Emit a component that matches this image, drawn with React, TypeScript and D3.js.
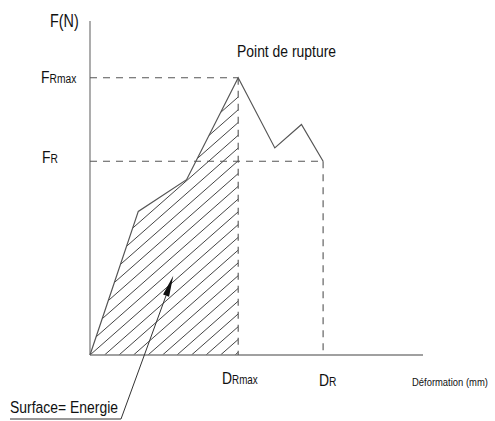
import * as d3 from "d3";

// deformation (mm) / force (N), arbitrary units
const deformation = [0, 1.45, 2.9, 4.45, 5.55, 6.35, 7.0];
const force = [0, 4.3, 5.25, 8.3, 6.2, 6.9, 5.8];
const peakIndex = 3;
const FR_MAX = 8.3;
const FR = 5.8;
const DR_MAX = 4.45;
const DR = 7.0;
const arrowTip = [2.5, 2.37];

const W = 495, H = 421;
const FONT = "'Liberation Sans', Arial, sans-serif";
const NARROW = 0.82; // the sketch uses a condensed face
const LINE = "#555";
const AXIS = "#808080";

// text squeezed horizontally around its anchor point
function Label({ x, y, size, children }: { x: number; y: number; size?: number; children: any }) {
  return (
    <text transform={`translate(${x},${y}) scale(${NARROW},1)`} fontSize={size}>
      {children}
    </text>
  );
}

export default function App() {
  const x = d3.scaleLinear().domain([0, 10]).range([90, 423]);
  const y = d3.scaleLinear().domain([0, 10]).range([355, 21]);
  const pts = deformation.map((d, i) => [x(d), y(force[i])] as [number, number]);
  const curve = d3.line()(pts) ?? "";
  const area = d3.line()([...pts.slice(0, peakIndex + 1), [x(DR_MAX), y(0)]]) + "Z";

  // hatching: parallel lines, 14.5px apart along the x axis
  const step = 14.5, slope = 0.88;
  const hatch = d3.range(-20, 12).map((k) => {
    const x0 = x(0) + k * step;
    return { x1: x0, y1: y(0), x2: x0 + 300, y2: y(0) - 300 * slope };
  });

  // arrow pointing into the hatched area
  const tip = [x(arrowTip[0]), y(arrowTip[1])];
  const foot = [121, 419];
  const len = Math.hypot(tip[0] - foot[0], tip[1] - foot[1]);
  const ux = (tip[0] - foot[0]) / len, uy = (tip[1] - foot[1]) / len;
  const headL = 21, headW = 3.2;
  const base = [tip[0] - ux * headL, tip[1] - uy * headL];
  const head = `M${tip[0]},${tip[1]}L${base[0] - uy * headW},${base[1] + ux * headW}L${base[0] + uy * headW},${base[1] - ux * headW}Z`;

  return (
    <svg width={W} height={H} style={{ position: "absolute", left: 0, top: 0, background: "#fff" }} fontFamily={FONT}>
      <defs>
        <clipPath id="hatchClip"><path d={area} /></clipPath>
      </defs>

      <g clipPath="url(#hatchClip)" stroke="#444" strokeWidth={1}>
        {hatch.map((l, i) => <line key={i} {...l} />)}
      </g>

      {/* axes */}
      <line x1={x(0)} x2={x(0)} y1={y(10)} y2={y(0)} stroke={AXIS} strokeWidth={1.3} />
      <line x1={x(0)} x2={x(10)} y1={y(0)} y2={y(0)} stroke={AXIS} strokeWidth={1.3} />

      {/* reference dashes */}
      <g stroke={LINE} strokeWidth={1.1} strokeDasharray="7,6" fill="none">
        <line x1={x(0)} x2={x(DR_MAX)} y1={y(FR_MAX)} y2={y(FR_MAX)} />
        <line x1={x(0)} x2={x(DR)} y1={y(FR)} y2={y(FR)} />
        <line x1={x(DR_MAX)} x2={x(DR_MAX)} y1={y(FR_MAX)} y2={y(0)} />
        <line x1={x(DR)} x2={x(DR)} y1={y(FR)} y2={y(0)} />
      </g>

      <path d={curve} fill="none" stroke={LINE} strokeWidth={1.2} strokeLinejoin="miter" />

      {/* annotation */}
      <line x1={10} x2={foot[0]} y1={foot[1]} y2={foot[1]} stroke="#333" strokeWidth={1} />
      <line x1={foot[0]} y1={foot[1]} x2={base[0]} y2={base[1]} stroke="#333" strokeWidth={1} />
      <path d={head} fill="#111" />

      <g fill="#111">
        <Label x={50} y={27} size={17.5}>F(N)</Label>
        <Label x={41} y={83} size={17}>F<tspan fontSize={12.5}>Rmax</tspan></Label>
        <Label x={42} y={163} size={17}>F<tspan fontSize={12.5}>R</tspan></Label>
        <Label x={237} y={57} size={17}>Point de rupture</Label>
        <Label x={222} y={384} size={17}>D<tspan fontSize={12}>Rmax</tspan></Label>
        <Label x={319} y={386} size={17}>D<tspan fontSize={12.5}>R</tspan></Label>
        <Label x={412} y={386} size={11.5}>Déformation (mm)</Label>
        <Label x={10} y={413} size={17}>Surface= Energie</Label>
      </g>
    </svg>
  );
}
